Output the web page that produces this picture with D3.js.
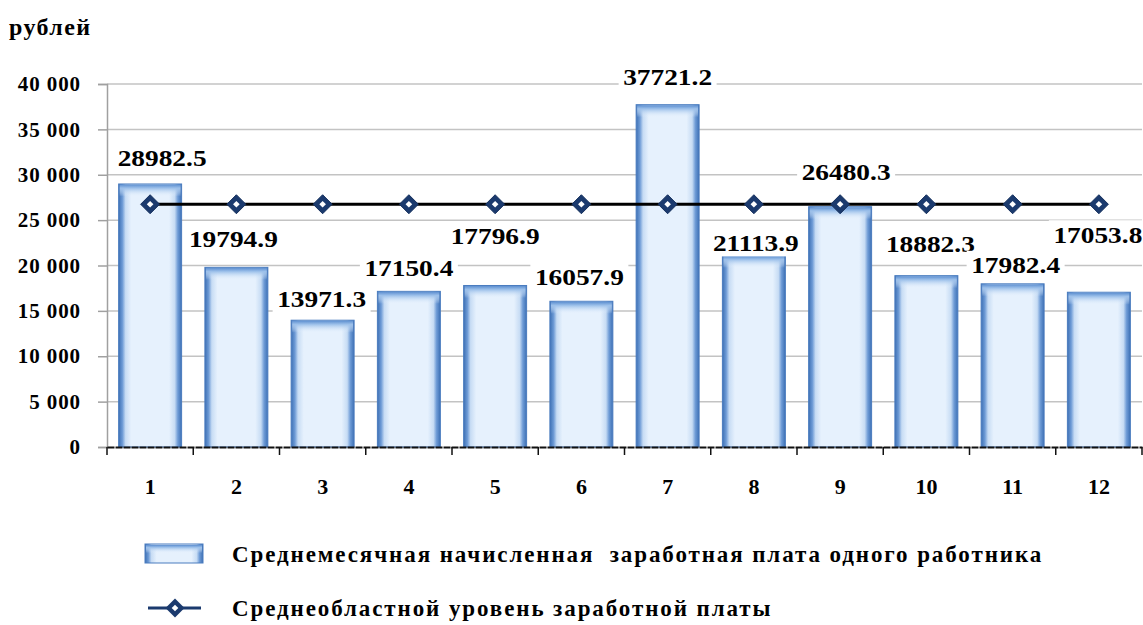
<!DOCTYPE html>
<html>
<head>
<meta charset="utf-8">
<script src="https://cdn.jsdelivr.net/npm/d3@7"></script>
<style>
  body { margin: 0; background: #fff; }
  svg text { font-family: "Liberation Serif", "Times New Roman", serif; font-weight: bold; fill: #000; }
</style>
</head>
<body>
<div id="chart"></div>
<script>
// districts 1..12 and their wages
var categories = ["1", "2", "3", "4", "5", "6", "7", "8", "9", "10", "11", "12"];
var wages = [28982.5, 19794.9, 13971.3, 17150.4, 17796.9, 16057.9, 37721.2, 21113.9, 26480.3, 18882.3, 17982.4, 17053.8];
var regionAvg = [26750, 26750, 26750, 26750, 26750, 26750, 26750, 26750, 26750, 26750, 26750, 26750];
var yTicks = [0, 5000, 10000, 15000, 20000, 25000, 30000, 35000, 40000];
var seriesNames = ["Среднемесячная начисленная  заработная плата одного работника",
                   "Среднеобластной уровень заработной платы"];
// label nudges (px) so they don't overlap, like the original
var labelDx = [12, -3, -1, 0, 0, -2, 0, 2, 6, 4, 3, -1];
var labelDy = [-26, -29, -22, -24, -50, -25, -28, -13, -35, -32, -19, -58];

var width = 1143, height = 625;
var svg = d3.select("#chart").append("svg")
    .attr("width", width)
    .attr("height", height);

var defs = svg.append("defs");
var g1 = defs.append("linearGradient").attr("id", "barSide").attr("x1", 0).attr("x2", 1).attr("y1", 0).attr("y2", 0);
[[0, "#3d70b4"], [0.06, "#6e9bd6"], [0.11, "#c7dcf4"], [0.2, "#e6f1fd"], [0.8, "#e6f1fd"], [0.89, "#c7dcf4"], [0.94, "#6e9bd6"], [1, "#3d70b4"]]
  .forEach(function(s) { g1.append("stop").attr("offset", s[0]).attr("stop-color", s[1]); });
var g2 = defs.append("linearGradient").attr("id", "barTop").attr("x1", 0).attr("x2", 0).attr("y1", 0).attr("y2", 1);
[[0, "#5d8fd0"], [0.3, "#9cc0ea"], [1, "rgba(230,241,253,0)"]]
  .forEach(function(s) { g2.append("stop").attr("offset", s[0]).attr("stop-color", s[1]); });

var x = d3.scaleBand().domain(categories).range([107, 1142]).paddingInner(0.27).paddingOuter(0.135);
var y = d3.scaleLinear().domain([0, 40000]).range([447, 84]);
var fmt = function(v) { return v == 0 ? "0" : d3.format(",")(v).replace(",", " "); };

// gridlines
svg.append("g").selectAll("line").data(yTicks.slice(1)).enter().append("line")
    .attr("x1", 107).attr("x2", 1142)
    .attr("y1", function(d) { return y(d); }).attr("y2", function(d) { return y(d); })
    .attr("stroke", "#c3c3c3").attr("stroke-width", 1.5);

// y axis
var yAxis = svg.append("g").attr("transform", "translate(107,0)")
    .call(d3.axisLeft(y).tickValues(yTicks).tickFormat(fmt).tickSize(9).tickPadding(17));
yAxis.attr("font-family", null).attr("font-size", null);
yAxis.select(".domain").attr("stroke", "#a0a0a0").attr("stroke-width", 1.5);
yAxis.selectAll(".tick line").attr("stroke", "#a0a0a0").attr("stroke-width", 1.5);
yAxis.selectAll("text").style("font-size", "21px").style("letter-spacing", "0.9px").attr("fill", "#000");

// bars
var bars = svg.append("g").selectAll(".bar").data(wages).enter().append("g").attr("class", "bar");
bars.append("rect")
    .attr("x", function(d, i) { return x(categories[i]); })
    .attr("y", function(d) { return y(d); })
    .attr("width", x.bandwidth())
    .attr("height", function(d) { return y(0) - y(d); })
    .attr("fill", "url(#barSide)")
    .attr("stroke", "#4a7cbf").attr("stroke-width", 1);
bars.append("rect")
    .attr("x", function(d, i) { return x(categories[i]) + 1; })
    .attr("y", function(d) { return y(d) + 0.5; })
    .attr("width", x.bandwidth() - 2)
    .attr("height", 12)
    .attr("fill", "url(#barTop)");

// x axis
var xAxis = svg.append("g").attr("transform", "translate(0,447)")
    .call(d3.axisBottom(x).tickSize(0));
xAxis.attr("font-family", null).attr("font-size", null);
xAxis.select(".domain").attr("stroke", "#111").attr("stroke-width", 2).attr("stroke-dasharray", "7,1");
xAxis.selectAll("text").attr("y", 47).attr("dy", null).style("font-size", "22px").attr("fill", "#000");
var step = x.step();
svg.append("g").selectAll("line").data(d3.range(13)).enter().append("line")
    .attr("x1", function(i) { return 107 + i * step; }).attr("x2", function(i) { return 107 + i * step; })
    .attr("y1", 447).attr("y2", 455)
    .attr("stroke", "#111").attr("stroke-width", 1.5);

// average line
var cx = function(d, i) { return x(categories[i]) + x.bandwidth() / 2; };
var line = d3.line().x(cx).y(function(d) { return y(d); });
svg.append("path").datum(regionAvg).attr("d", line)
    .attr("fill", "none").attr("stroke", "#000").attr("stroke-width", 3);
var diamond = d3.symbol().type(d3.symbolDiamond2).size(230);
var inner = d3.symbol().type(d3.symbolDiamond2).size(28);
var marks = svg.append("g").selectAll("g").data(regionAvg).enter().append("g")
    .attr("transform", function(d, i) { return "translate(" + cx(d, i) + "," + y(d) + ")"; });
marks.append("path").attr("d", diamond).attr("fill", "#1b3a6e").attr("stroke", "#15305d").attr("stroke-width", 1);
marks.append("path").attr("d", inner).attr("fill", "#ffffff");

// value labels
var labels = svg.append("g").selectAll("g").data(wages).enter().append("g")
    .attr("transform", function(d, i) { return "translate(" + (cx(d, i) + labelDx[i]) + "," + (y(d) + labelDy[i]) + ")"; });
labels.append("rect").attr("x", -49).attr("y", -14).attr("width", 98).attr("height", 28).attr("fill", "#fff");
labels.append("text")
    .attr("text-anchor", "middle").attr("dy", "0.35em")
    .attr("transform", "scale(1.14,1)")
    .style("font-size", "24px")
    .text(function(d) { return d.toFixed(1); });

// unit
svg.append("text").attr("x", 9).attr("y", 35).style("font-size", "24px").style("letter-spacing", "1.4px").text("рублей");

// legend
var lg = svg.append("g");
lg.append("rect").attr("x", 145).attr("y", 544).attr("width", 58).attr("height", 19)
    .attr("fill", "url(#barSide)").attr("stroke", "#4a7cbf");
lg.append("rect").attr("x", 146).attr("y", 545).attr("width", 56).attr("height", 8).attr("fill", "url(#barTop)");
lg.append("line").attr("x1", 148).attr("x2", 201).attr("y1", 608).attr("y2", 608)
    .attr("stroke", "#1b3a6e").attr("stroke-width", 3);
lg.append("path").attr("d", diamond).attr("transform", "translate(175,608)").attr("fill", "#1b3a6e");
lg.append("path").attr("d", inner).attr("transform", "translate(175,608)").attr("fill", "#fff");
lg.selectAll(".lt").data(seriesNames).enter().append("text").attr("class", "lt")
    .attr("x", 232).attr("y", function(d, i) { return 562 + i * 54; })
    .style("font-size", "23px").style("letter-spacing", "1.9px")
    .attr("xml:space", "preserve")
    .text(function(d) { return d; });
</script>
</body>
</html>
